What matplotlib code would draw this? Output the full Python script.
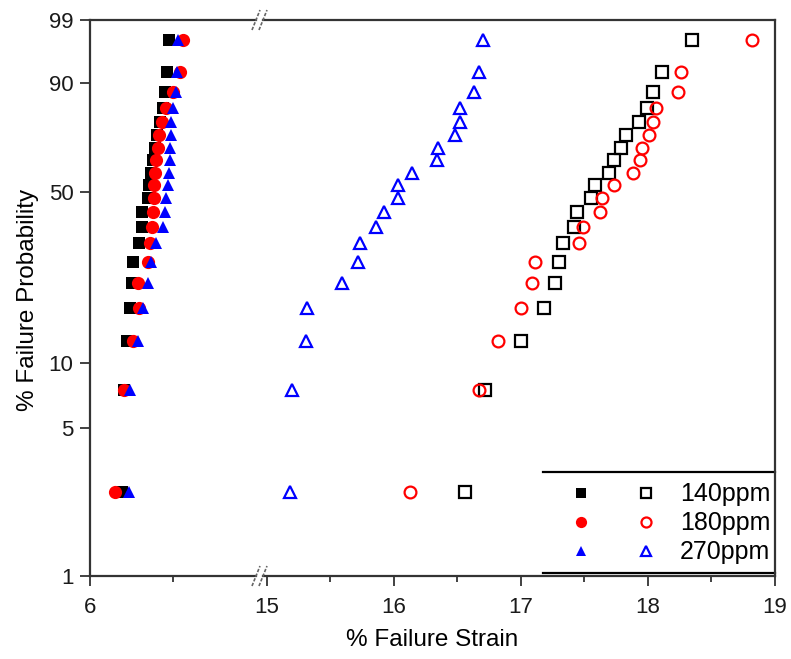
import numpy as np
import matplotlib
matplotlib.use("Agg")
import matplotlib.pyplot as plt
from matplotlib.legend_handler import HandlerTuple
from matplotlib.lines import Line2D

plt.rcParams['font.family'] = ['Liberation Sans', 'DejaVu Sans']

# probabilidade de falha (%) para cada posicao (20 amostras por serie)
prob = [2.5, 7.5, 12.5, 17.5, 22.5, 27.5, 32.5, 37.5, 42.5, 47.5,
        52.5, 57.5, 62.5, 67.5, 72.5, 77.5, 82.5, 87.5, 92.5, 97.5]

# deformacao de falha (%) - simbolos cheios (segmento 6-7)
strain_140_cheio = [6.195, 6.207, 6.220, 6.238, 6.250, 6.262, 6.293, 6.311, 6.311, 6.348,
                    6.354, 6.366, 6.378, 6.390, 6.402, 6.421, 6.439, 6.451, 6.463, 6.476]
strain_180_cheio = [6.152, 6.207, 6.262, 6.293, 6.287, 6.348, 6.360, 6.372, 6.378, 6.384,
                    6.384, 6.390, 6.396, 6.409, 6.415, 6.433, 6.457, 6.500, 6.543, 6.561]
strain_270_cheio = [6.232, 6.238, 6.287, 6.317, 6.348, 6.366, 6.396, 6.439, 6.451, 6.457,
                    6.470, 6.476, 6.482, 6.482, 6.488, 6.488, 6.500, 6.518, 6.524, 6.530]

# deformacao de falha (%) - simbolos vazios (segmento 15-19)
strain_140_vazio = [16.56, 16.72, 17.00, 17.18, 17.27, 17.30, 17.33, 17.42, 17.44, 17.55,
                    17.58, 17.69, 17.73, 17.79, 17.83, 17.93, 17.99, 18.04, 18.11, 18.35]
strain_180_vazio = [16.13, 16.67, 16.82, 17.00, 17.09, 17.11, 17.46, 17.49, 17.62, 17.64,
                    17.73, 17.88, 17.94, 17.95, 18.01, 18.04, 18.06, 18.24, 18.26, 18.82]
strain_270_vazio = [15.18, 15.20, 15.31, 15.32, 15.59, 15.72, 15.73, 15.86, 15.92, 16.03,
                    16.03, 16.14, 16.34, 16.35, 16.48, 16.52, 16.52, 16.63, 16.67, 16.70]

rotulos = ['140ppm', '180ppm', '270ppm']
cores = ['black', 'red', 'blue']
marcadores = ['s', 'o', '^']
yticks = [1, 5, 10, 50, 90, 99]


def weibull(p):
    p = np.clip(np.asarray(p, dtype=float), 1e-6, 100 - 1e-6)
    return np.log(-np.log(1 - p / 100.0))


def weibull_inv(w):
    return 100.0 * (1 - np.exp(-np.exp(w)))


W, H = 791, 659
fig = plt.figure(figsize=(W / 100, H / 100), dpi=100)
topo, base = 20, 576
ax1 = fig.add_axes([90 / W, 1 - base / H, (256 - 90) / W, (base - topo) / H])
ax2 = fig.add_axes([263 / W, 1 - base / H, (775 - 263) / W, (base - topo) / H], sharey=ax1)

cor_eixo = '#333333'
for ax in (ax1, ax2):
    ax.set_yscale('function', functions=(weibull, weibull_inv))
    for s in ax.spines.values():
        s.set_linewidth(1.6)
        s.set_color(cor_eixo)
    ax.tick_params(which='both', direction='out', color=cor_eixo, width=1.3,
                   labelsize=16, labelcolor='#1a1a1a')
    ax.tick_params(which='major', length=7)
    ax.tick_params(which='minor', length=4)

# simbolos cheios
hs_cheio = []
for xs, c, m in zip([strain_140_cheio, strain_180_cheio, strain_270_cheio], cores, marcadores):
    ms = 9 if m != 'o' else 9.5
    h, = ax1.plot(xs, prob, linestyle='none', marker=m, markersize=ms,
                  color=c, markeredgewidth=0)
    hs_cheio.append(h)

# simbolos vazios (azul primeiro, vermelho por cima do preto)
hs_vazio = [None, None, None]
for i in [2, 0, 1]:
    xs = [strain_140_vazio, strain_180_vazio, strain_270_vazio][i]
    ms = 8 if marcadores[i] == 's' else 8.5
    h, = ax2.plot(xs, prob, linestyle='none', marker=marcadores[i], markersize=ms,
                  markerfacecolor='none', markeredgecolor=cores[i], markeredgewidth=1.6)
    hs_vazio[i] = h

ax1.set_ylim(1, 99)
ax1.set_yticks(yticks)
ax1.set_yticklabels([str(t) for t in yticks])
ax1.yaxis.set_minor_locator(matplotlib.ticker.NullLocator())

ax1.set_xlim(6, 7.0)
ax1.set_xticks([6])
ax1.set_xticks([6.5], minor=True)
ax1.spines['right'].set_visible(False)

ax2.set_xlim(14.97, 19.0)
ax2.set_xticks([15, 16, 17, 18, 19])
ax2.set_xticks([15.5, 16.5, 17.5, 18.5], minor=True)
ax2.spines['left'].set_visible(False)
ax2.tick_params(axis='y', which='both', left=False, labelleft=False)

for ax in (ax1, ax2):
    ax.xaxis.set_tick_params(pad=8)
ax1.yaxis.set_tick_params(pad=5)

# marcas de quebra do eixo
for yp in (topo, base):
    for xp in (256, 263):
        fig.add_artist(Line2D([(xp - 4) / W, (xp + 4) / W],
                              [1 - (yp + 10) / H, 1 - (yp - 10) / H],
                              color='#666666', linewidth=1.2, linestyle=(0, (2, 1))))

# legenda
leg = ax2.legend(list(zip(hs_cheio, hs_vazio)), rotulos,
                 handler_map={tuple: HandlerTuple(ndivide=None, pad=1.8)},
                 loc='lower right', bbox_to_anchor=(1.0, 0.012), frameon=False,
                 fontsize=18, handlelength=3.4, handletextpad=0.95, markerscale=0.85,
                 labelspacing=0.2, borderpad=0.2, borderaxespad=0)
y_sup = (base - 472) / (base - topo)
y_inf = (base - 573) / (base - topo)
x_esq = (543 - 263) / (775 - 263)
for yy in (y_sup, y_inf):
    ax2.plot([x_esq, 1.0], [yy, yy], transform=ax2.transAxes, color='black',
             linewidth=1.6, clip_on=False)

fig.text(432 / W, 1 - 640 / H, '% Failure Strain', ha='center', va='center', fontsize=17.5)
fig.text(28 / W, 1 - 300 / H, '% Failure Probability', ha='center', va='center',
         rotation=90, fontsize=17.5)

fig.savefig('out.png', dpi=100)
